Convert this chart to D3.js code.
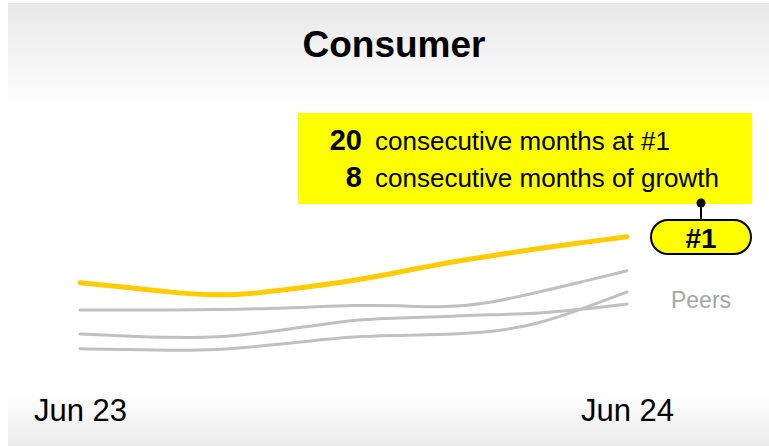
<!DOCTYPE html>
<html>
<head>
<meta charset="utf-8">
<script src="https://cdn.jsdelivr.net/npm/d3@7"></script>
<style>
  html, body { margin: 0; padding: 0; background: #fff; }
  svg { display: block; font-family: "Liberation Sans", Arial, sans-serif; }
</style>
</head>
<body>
<svg id="chart" width="769" height="446"></svg>
<script>
// Monthly share index, Jun 2023 – Jun 2024
const months = ["2023-06","2023-07","2023-08","2023-09","2023-10","2023-11","2023-12",
                "2024-01","2024-02","2024-03","2024-04","2024-05","2024-06"];
const consumer = [29.3, 28.2, 26.9, 26.0, 26.8, 28.3, 29.8, 32.0, 34.3, 36.0, 37.8, 39.3, 40.8];
const peerA    = [22.5, 22.5, 22.5, 22.6, 22.8, 23.2, 23.7, 23.6, 23.1, 24.2, 26.8, 29.5, 32.3];
const peerB    = [16.5, 16.0, 15.6, 15.6, 16.8, 18.4, 20.1, 20.5, 20.9, 21.3, 21.6, 22.6, 24.0];
const peerC    = [12.8, 12.6, 12.4, 12.5, 13.5, 14.7, 15.9, 16.1, 16.4, 16.9, 18.8, 22.6, 27.0];
const peers = [peerA, peerB, peerC];
const tickLabels = ["Jun 23", "Jun 24"];
const title = "Consumer";
const streakRank = 20, streakGrowth = 8;

const parse = d3.timeParse("%Y-%m");
const dates = months.map(parse);

const svg = d3.select("#chart");
const W = 769, H = 446;

// Panel background with soft grey fades at top and bottom
const defs = svg.append("defs");
const grad = defs.append("linearGradient")
  .attr("id", "panelFade").attr("x1", 0).attr("y1", 0).attr("x2", 0).attr("y2", 1);
[[0, "#e8e8e8"], [0.24, "#ffffff"], [0.88, "#ffffff"], [1, "#ebebeb"]]
  .forEach(([o, c]) => grad.append("stop").attr("offset", o).attr("stop-color", c));

svg.append("rect").attr("x", 8).attr("y", 3).attr("width", W - 8).attr("height", H - 3)
  .attr("fill", "url(#panelFade)");

const x = d3.scaleTime().domain([dates[0], dates[dates.length - 1]]).range([80, 627]);
const y = d3.scaleLinear().domain([0, 50]).range([400, 200]);

const line = d3.line()
  .x((d, i) => x(dates[i]))
  .y(d => y(d))
  .curve(d3.curveBasis);

// Title
svg.append("text").attr("x", 394).attr("y", 57)
  .attr("text-anchor", "middle").attr("font-size", 37).attr("font-weight", "bold")
  .attr("fill", "#000").text(title);

// Peer lines
svg.append("g").selectAll("path").data(peers).join("path")
  .attr("d", line)
  .attr("fill", "none").attr("stroke", "#c0c0c0").attr("stroke-width", 3)
  .attr("stroke-linecap", "round");

// Consumer line
svg.append("path").datum(consumer).attr("d", line)
  .attr("fill", "none").attr("stroke", "#ffcc00").attr("stroke-width", 5)
  .attr("stroke-linecap", "round");

// X axis labels at the first and last month
const xAxis = d3.axisBottom(x)
  .tickValues([dates[0], dates[dates.length - 1]])
  .tickFormat((d, i) => tickLabels[i])
  .tickSize(0).tickPadding(0);
const ax = svg.append("g").attr("transform", "translate(0,399)").call(xAxis);
ax.select(".domain").remove();
ax.selectAll("text").attr("font-size", 31).attr("fill", "#000")
  .attr("font-family", "Liberation Sans, Arial, sans-serif")
  .attr("dy", "0.72em");

// Callout box
const box = svg.append("g");
box.append("rect").attr("x", 298).attr("y", 113).attr("width", 454).attr("height", 91)
  .attr("fill", "#ffff00");
const rows = [[streakRank, "consecutive months at #1", 150], [streakGrowth, "consecutive months of growth", 187]];
rows.forEach(([n, label, by]) => {
  box.append("text").attr("x", 362).attr("y", by).attr("text-anchor", "end")
    .attr("font-size", 29).attr("font-weight", "bold").text(n);
  box.append("text").attr("x", 375).attr("y", by)
    .attr("font-size", 26).text(label);
});

// Connector and rank badge
svg.append("line").attr("x1", 701).attr("x2", 701).attr("y1", 203).attr("y2", 220)
  .attr("stroke", "#000").attr("stroke-width", 2);
svg.append("circle").attr("cx", 701).attr("cy", 203).attr("r", 4.5).attr("fill", "#000");
svg.append("rect").attr("x", 651).attr("y", 220).attr("width", 100).attr("height", 34)
  .attr("rx", 17).attr("ry", 17)
  .attr("fill", "#ffff00").attr("stroke", "#000").attr("stroke-width", 2);
svg.append("text").attr("x", 701).attr("y", 248).attr("text-anchor", "middle")
  .attr("font-size", 28).attr("font-weight", "bold").text("#1");

// Peers label
svg.append("text").attr("x", 701).attr("y", 308).attr("text-anchor", "middle")
  .attr("font-size", 23).attr("fill", "#a6a6a6").text("Peers");
</script>
</body>
</html>
